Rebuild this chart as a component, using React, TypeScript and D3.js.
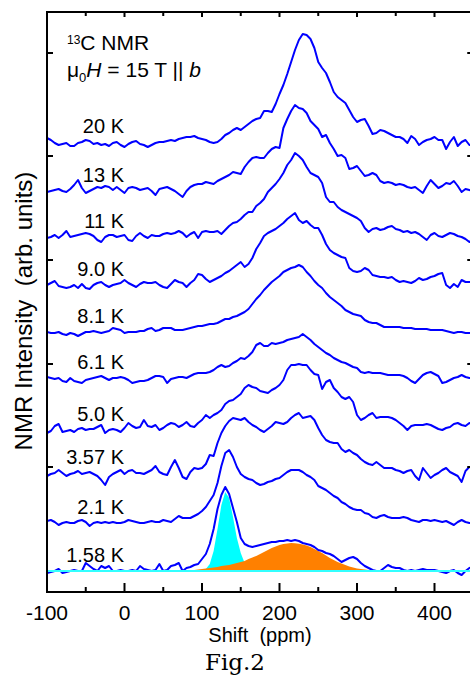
import React from 'react';
import * as d3 from 'd3';

// shift grid (ppm), 5 ppm steps
const shift = d3.range(-100, 451, 5);

const temps = ['20 K', '13 K', '11 K', '9.0 K', '8.1 K', '6.1 K', '5.0 K', '3.57 K', '2.1 K', '1.58 K'];
// vertical offset of each spectrum (arb. units)
const offsets = [450, 401, 355, 307, 260, 214, 162, 119, 69, 21];

const s20 = [
  4, 2, -1, -3, -2, -1, -4, -4, -1, 0,
  2, 1, -2, -1, -3, -2, -4, -1, 0, -3,
  -5, -2, 0, 1, -2, -3, -5, -3, -1, 0,
  0, 1, 2, 1, 3, 4, 5, 5, 6, 4,
  3, 2, 0, -1, 0, 3, 7, 9, 12, 14,
  12, 15, 18, 21, 23, 24, 31, 31, 30, 38,
  48, 57, 68, 80, 92, 102, 108, 107, 103, 94,
  80, 74, 69, 60, 50, 45, 42, 39, 32, 25,
  20, 22, 23, 16, 8, 9, 12, 11, 9, 7,
  5, 5, 3, -1, 6, 3, -3, 0, 2, 3,
  5, 2, 2, -7, 0, 5, -4, 0, 2, -3,
  -3,
];
const s13 = [
  -1, 0, 1, 2, 0, -1, 2, 6, 11, 3,
  -2, 0, 2, 4, 3, 5, 4, 1, 4, 1,
  -2, 3, 4, 3, 1, 2, 3, 0, -4, 2,
  3, 4, 2, 0, -3, -6, 0, 4, 6, 7,
  7, 9, 8, 7, 10, 12, 14, 16, 19, 18,
  17, 24, 29, 33, 34, 33, 33, 38, 42, 44,
  43, 63, 72, 80, 86, 83, 82, 78, 70, 66,
  62, 54, 56, 48, 42, 35, 36, 33, 22, 23,
  25, 20, 15, 16, 18, 16, 10, 8, 9, 8,
  6, 7, 6, 4, 3, 4, 1, -2, 5, 11,
  7, 3, 5, 8, 7, 10, 5, -1, 2, 1,
  0,
];
const s11 = [
  -1, 0, 2, -1, 2, 6, 0, 1, 2, 3,
  4, 3, 1, -3, -5, 0, 2, 2, 0, 1,
  2, -3, -4, 1, 4, 1, -1, 2, 1, 1,
  3, 4, 3, 4, 6, 4, 0, 3, 5, -1,
  5, 6, 5, 5, 6, 3, 7, 11, 14, 15,
  18, 22, 25, 25, 31, 34, 38, 45, 49, 53,
  58, 64, 72, 77, 84, 81, 77, 70, 64, 62,
  60, 54, 40, 35, 35, 30, 27, 25, 23, 21,
  19, 16, 9, 5, 8, 9, 7, 8, 10, 11,
  8, 7, 5, 6, 4, 5, 3, 0, -3, 2,
  4, 1, 0, 2, 4, 3, 1, 0, -2, -5,
  -3,
];
const s9 = [
  0, 2, 4, -1, -2, -3, -2, 0, -3, 1,
  -3, -4, 0, 2, 3, 0, -2, 0, 1, 2,
  5, 2, 0, -2, 1, 3, 2, 2, 3, 0,
  -2, -3, 1, 5, 3, 2, -2, 2, 5, 11,
  10, 6, 3, 5, 7, 9, 12, 14, 17, 20,
  23, 18, 21, 27, 36, 42, 49, 52, 54, 56,
  59, 62, 66, 69, 72, 65, 62, 64, 60, 57,
  57, 50, 41, 35, 32, 30, 28, 27, 17, 14,
  13, 14, 17, 15, 10, 9, 8, 8, 7, 8,
  5, 3, 4, 3, 2, 4, 7, 5, 6, 8,
  9, 11, 12, 0, -3, 1, -2, 5, 3, 3,
  3,
];
const s8 = [
  0, -1, -1, 0, -2, -3, -1, -2, -4, -2,
  0, 0, 1, 0, -1, 0, 1, 4, 3, 2,
  -1, 0, 0, 0, 1, 1, 3, 4, 1, 2,
  4, 4, 4, 2, 2, 2, 3, 4, 5, 6,
  6, 7, 8, 8, 9, 11, 13, 13, 15, 16,
  18, 20, 23, 28, 33, 37, 42, 46, 50, 53,
  56, 60, 62, 64, 65, 67, 65, 60, 56, 51,
  47, 44, 39, 35, 32, 29, 26, 22, 20, 18,
  17, 16, 12, 10, 9, 9, 7, 5, 5, 5,
  5, 5, 4, 4, 4, 3, 3, 3, 3, 2,
  2, 2, 2, 1, 0, -1, 0, 0, -1, -1,
  -1,
];
const s6 = [
  1, 0, -1, 0, -3, -4, 0, -3, -4, -5,
  -2, -1, 0, 1, 2, 0, -2, 0, 0, 1,
  0, -2, -5, -4, -3, -3, -2, 0, 2, 2,
  1, -5, -1, 0, 1, 1, 0, 2, 4, 5,
  5, 5, 6, 8, 11, 13, 11, 12, 15, 17,
  20, 19, 22, 26, 33, 35, 32, 32, 35, 34,
  35, 36, 38, 39, 40, 41, 44, 41, 38, 34,
  31, 28, 25, 23, 20, 18, 16, 15, 13, 11,
  10, 6, 5, 6, 5, 5, 5, 4, 3, 3,
  3, 3, 2, 0, -3, -5, -1, 3, 5, 6,
  4, 2, -5, -4, -2, 0, 1, 3, 1, 0,
  0,
];
const s5 = [
  -3, -1, 4, 6, -2, -1, 0, -2, 1, 2,
  0, 1, 1, 3, 5, -3, 0, 1, 0, -2,
  2, 7, 4, 2, 3, 10, 4, 3, 5, 0,
  2, 5, 7, 6, 3, 5, 8, 4, 3, 7,
  10, 15, 12, 15, 17, 20, 26, 29, 30, 33,
  36, 42, 45, 43, 42, 39, 38, 37, 40, 42,
  45, 50, 60, 65, 65, 66, 65, 65, 60, 56,
  55, 41, 48, 50, 42, 38, 33, 31, 33, 28,
  15, 10, 12, 15, 17, 12, 13, 13, 13, 12,
  10, 7, 4, 0, 4, 5, 5, 5, 6, 5,
  3, 1, 0, 2, 3, 6, 7, 5, 4, 7,
  6,
];
const s3 = [
  -3, -1, 0, 3, 0, -3, -1, 0, 2, -1,
  0, 1, -1, -3, -7, -12, -4, -1, 1, 3,
  -1, 2, 3, 0, 0, -1, 1, 3, 7, 1,
  -1, -2, 6, 13, 5, -4, -6, 1, 5, 4,
  5, 9, 18, 17, 30, 40, 47, 52, 55, 54,
  53, 55, 51, 48, 46, 43, 41, 44, 47, 51,
  50, 49, 51, 55, 58, 60, 55, 56, 57, 53,
  45, 38, 33, 31, 30, 30, 24, 21, 23, 20,
  18, 14, 11, 9, 8, 11, 8, 5, 5, 5,
  3, 2, 0, 2, 3, -3, -7, 5, 0, -5,
  -2, 0, 3, 5, 1, -1, -3, -9, 2, 6,
  6,
];
const s2 = [
  2, 3, 1, -2, 0, 1, 0, 0, 2, 3,
  1, -3, 0, 1, 0, 1, 0, 1, 0, 0,
  1, 3, 2, 1, 0, 0, 1, 2, 1, 1,
  3, 2, 1, 4, 7, 5, 5, 5, 7, 9,
  12, 16, 22, 28, 40, 57, 70, 73, 66, 56,
  49, 46, 44, 43, 40, 38, 39, 41, 42, 44,
  45, 48, 51, 53, 53, 53, 51, 48, 46, 43,
  37, 35, 33, 30, 27, 25, 21, 19, 16, 14,
  13, 13, 10, 9, 6, 5, 7, 8, 6, 5,
  5, 5, 6, 5, 3, 2, 1, 3, 3, 2,
  3, 2, 1, 2, 0, -2, 1, 3, 1, 0,
  0,
];
const s1 = [
  -2, -1, 0, 2, -2, -1, 0, 1, 0, 0,
  8, 5, 2, 0, 5, 3, 5, 0, 0, 1,
  0, 0, 1, 0, 5, 2, 1, 0, 1, 7,
  0, 1, 5, 6, 8, 0, 3, 4, 6, 7,
  12, 17, 27, 42, 62, 76, 84, 77, 63, 49,
  33, 27, 25, 24, 25, 26, 27, 28, 29, 29,
  30, 30, 31, 30, 31, 30, 28, 27, 26, 24,
  21, 20, 18, 17, 15, 12, 9, 11, 13, 14,
  12, 8, 5, 3, 1, 0, 0, 3, 6, 4,
  3, 3, 1, 0, 1, 0, 1, 2, 1, 1,
  1, 0, -1, -2, 0, 1, -2, -4, 0, 3,
  4,
];
const spectra = [s20, s13, s11, s9, s8, s6, s5, s3, s2, s1];

// two-component fit of the 1.58 K spectrum
const narrowShift = d3.range(95, 171, 5);
const narrowFit = [0, 0.5, 2, 7, 20, 42, 66, 79, 73, 54, 33, 18, 8, 3, 1, 0];
const broadShift = d3.range(75, 336, 5);
const broadFit = [
  0, 0.3, 0.6, 1, 1.5, 2, 2.5, 3, 3.5, 4,
  5, 5.5, 6, 7, 8, 9, 10, 12, 13.5, 15,
  17, 19, 21, 23, 24.5, 26, 27, 27.5, 28, 27.8,
  27.3, 26.5, 25.5, 24, 22, 20, 18, 15.5, 13, 11,
  9, 7.5, 6, 4.5, 3.5, 2.5, 2, 1.5, 1, 0.6,
  0.3, 0.1, 0,
];

const xMajor = [-100, 0, 100, 200, 300, 400];
const xMinor = d3.range(-50, 451, 100);
const yTicks = [125, 228, 332, 436, 539];

const W = 470;
const H = 676;
const m = { left: 47, top: 12, bottom: 592, right: 473.25 };
const sans = '"Liberation Sans", Arial, Helvetica, sans-serif';

const App = () => {
  const x = d3.scaleLinear().domain([-100, 450]).range([m.left, m.right]);
  const y = d3.scaleLinear().domain([0, 580]).range([m.bottom, m.top]);

  const lineFor = (off: number) =>
    d3.line<number>()
      .x((_, i) => x(shift[i]))
      .y(d => y(d + off));

  const base = offsets[offsets.length - 1];
  const narrowArea = d3.area<number>()
    .x((_, i) => x(narrowShift[i]))
    .y0(y(base))
    .y1(d => y(d + base));
  const broadArea = d3.area<number>()
    .x((_, i) => x(broadShift[i]))
    .y0(y(base))
    .y1(d => y(d + base));

  return (
    <div style={{ position: 'absolute', left: 0, top: 0 }}>
      <svg width={W} height={H} style={{ display: 'block', background: '#fff' }}>
        <defs>
          <clipPath id="plot">
            <rect x={m.left} y={m.top} width={m.right - m.left} height={m.bottom - m.top} />
          </clipPath>
        </defs>

        <g clipPath="url(#plot)">
          <path d={narrowArea(narrowFit) || ''} fill="#00ffff" />
          <path d={broadArea(broadFit) || ''} fill="#ff8000" />
          {spectra.map((s, i) => (
            <path key={temps[i]} d={lineFor(offsets[i])(s) || ''} fill="none"
              stroke="#0000ff" strokeWidth={2} strokeLinejoin="round" />
          ))}
          <line x1={m.left} x2={m.right} y1={y(base)} y2={y(base)} stroke="#33ffff" strokeWidth={2} />
        </g>

        {/* frame */}
        <g stroke="#000" strokeWidth={2}>
          <line x1={m.left} x2={m.left} y1={m.top - 1} y2={m.bottom + 1} />
          <line x1={m.right} x2={m.right} y1={m.top - 1} y2={m.bottom + 1} />
          <line x1={m.left - 1} x2={m.right} y1={m.top} y2={m.top} />
          <line x1={m.left - 1} x2={m.right} y1={m.bottom} y2={m.bottom} />
          {xMajor.map(t => (
            <g key={'M' + t}>
              <line x1={x(t)} x2={x(t)} y1={m.bottom} y2={m.bottom - 9} />
              <line x1={x(t)} x2={x(t)} y1={m.top} y2={m.top + 5} />
            </g>
          ))}
          {xMinor.map(t => (
            <g key={'m' + t}>
              <line x1={x(t)} x2={x(t)} y1={m.bottom} y2={m.bottom - 5} />
              <line x1={x(t)} x2={x(t)} y1={m.top} y2={m.top + 4} />
            </g>
          ))}
          {yTicks.map(t => (
            <g key={'y' + t}>
              <line x1={m.left} x2={m.left + 6} y1={y(t)} y2={y(t)} />
              <line x1={m.right} x2={m.right - 6} y1={y(t)} y2={y(t)} />
            </g>
          ))}
        </g>

        <g fontFamily={sans} fill="#000">
          {xMajor.map(t => (
            <text key={'l' + t} x={x(t)} y={620} fontSize={21} textAnchor="middle">{t}</text>
          ))}
          <text x={260} y={642} fontSize={20} textAnchor="middle" style={{ whiteSpace: 'pre' }}>Shift  (ppm)</text>
          <text transform="translate(32,311) rotate(-90)" fontSize={24} textAnchor="middle"
            style={{ whiteSpace: 'pre' }}>NMR Intensity  (arb. units)</text>

          {temps.map((t, i) => (
            <text key={'t' + t} x={124} y={y(offsets[i]) - 9} fontSize={20} textAnchor="end">{t}</text>
          ))}

          <text x={67} y={50} fontSize={21}>
            <tspan fontSize={12} dy={-6}>13</tspan>
            <tspan dy={6}>C NMR</tspan>
          </text>
          <text x={67} y={77} fontSize={21} style={{ whiteSpace: 'pre' }}>
            <tspan>μ</tspan>
            <tspan fontSize={13} dy={5}>0</tspan>
            <tspan dy={-5} fontStyle="italic">H</tspan>
            <tspan> = 15 T || </tspan>
            <tspan fontStyle="italic">b</tspan>
          </text>
        </g>

        <text x={235} y={670} fontFamily='"DejaVu Serif", serif' fontSize={23} textAnchor="middle">Fig.2</text>
      </svg>
    </div>
  );
};

export default App;
